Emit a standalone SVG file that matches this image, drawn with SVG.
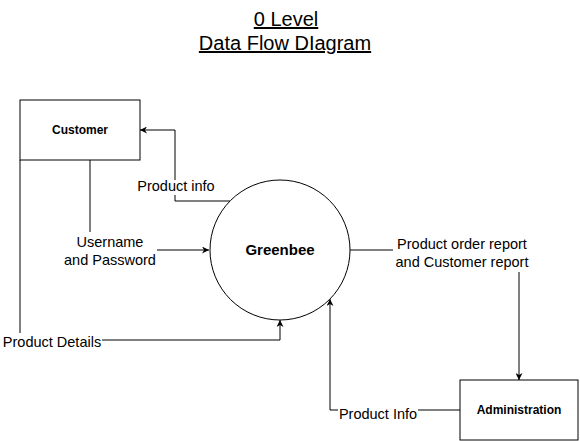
<svg xmlns="http://www.w3.org/2000/svg" width="580" height="441" viewBox="0 0 580 441">
<style>
.box{fill:#fff;stroke:#000;stroke-width:1}
.lbl{font-family:"Liberation Sans",Arial,sans-serif;font-size:14.5px;fill:#000;text-anchor:middle}
.nm{font-family:"Liberation Sans",Arial,sans-serif;font-size:12px;font-weight:bold;fill:#000;text-anchor:middle}
.ttl{font-family:"Liberation Sans",Arial,sans-serif;font-size:20px;fill:#000;text-anchor:middle;text-decoration:underline}
.ln{fill:none;stroke:#000;stroke-width:1}
</style>
<defs>
<marker id="ar" viewBox="0 0 10 10" refX="10" refY="5" markerWidth="7" markerHeight="7" orient="auto" markerUnits="userSpaceOnUse">
<path d="M0,0 L10,5 L0,10 L3,5 Z" fill="#000"/>
</marker>
</defs>
<rect width="580" height="441" fill="#fff"/>
<g id="title">
<text class="ttl" x="286" y="26">0 Level</text>
<text class="ttl" x="285" y="50">Data Flow DIagram</text>
</g>
<g id="connectors">
<path class="ln" d="M230,201 H175 V195"/>
<path class="ln" d="M175,180 V130 H140" marker-end="url(#ar)"/>
<text class="lbl" x="176" y="191">Product info</text>
<path class="ln" d="M90,160 V232"/>
<path class="ln" d="M157,250 H209" marker-end="url(#ar)"/>
<text class="lbl" x="110" y="247">Username</text>
<text class="lbl" x="110" y="265">and Password</text>
<path class="ln" d="M20,160 V333"/>
<path class="ln" d="M102,340 H280 V320" marker-end="url(#ar)"/>
<text class="lbl" x="52" y="347">Product Details</text>
<path class="ln" d="M350,250 H393"/>
<path class="ln" d="M519,272 V380" marker-end="url(#ar)"/>
<text class="lbl" x="462" y="249">Product order report</text>
<text class="lbl" x="462" y="267">and Customer report</text>
<path class="ln" d="M460,410 H418"/>
<path class="ln" d="M338,410 H330 V299" marker-end="url(#ar)"/>
<text class="lbl" x="378" y="419">Product Info</text>
</g>
<g id="customer">
<rect class="box" x="20" y="100" width="120" height="60"/>
<text class="nm" x="80" y="134">Customer</text>
</g>
<g id="greenbee">
<circle class="box" cx="280" cy="250" r="70"/>
<text class="nm" x="280" y="255" style="font-size:15px">Greenbee</text>
</g>
<g id="administration">
<rect class="box" x="460" y="380" width="118" height="60"/>
<text class="nm" x="519" y="414">Administration</text>
</g>
</svg>
